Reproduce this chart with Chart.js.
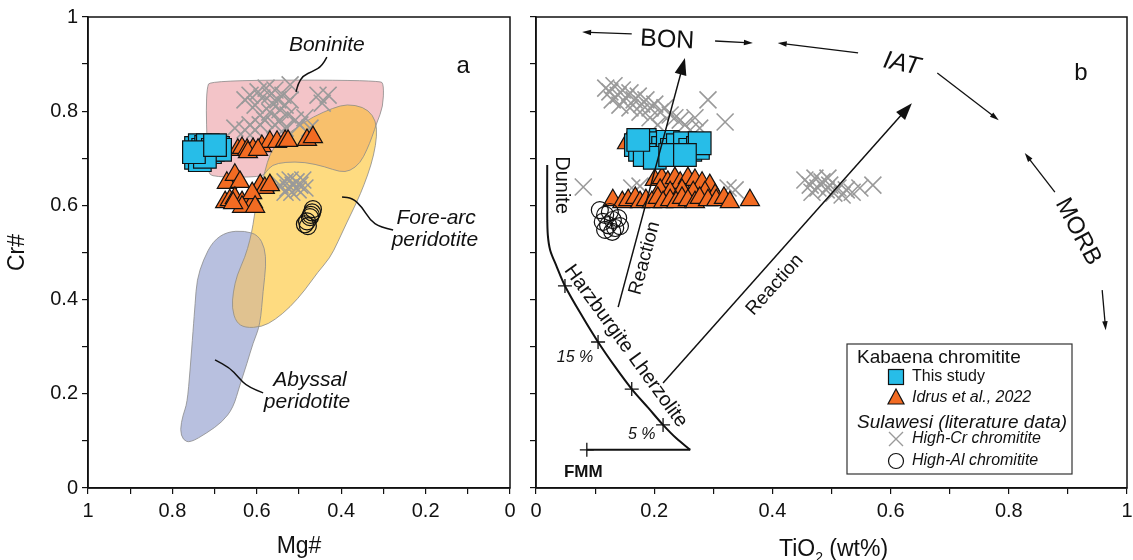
<!DOCTYPE html>
<html>
<head>
<meta charset="utf-8">
<script src="https://cdn.jsdelivr.net/npm/chart.js@4.4.1/dist/chart.umd.min.js"></script>
<style>
  html, body { margin: 0; padding: 0; background: #fff; overflow: hidden; }
  #wrap { position: relative; width: 1133px; height: 560px; }
  .box { position: absolute; top: 0; }
</style>
</head>
<body>
<div id="wrap">
  <div class="box" style="left:0"><canvas id="left" width="520" height="560"></canvas></div>
  <div class="box" style="left:520px"><canvas id="right" width="613" height="560"></canvas></div>
</div>
<script>
// ---------- data : panel a (Mg# vs Cr#) ----------
const tickLabels = ['0', '0.2', '0.4', '0.6', '0.8', '1'];

const squaresA = [[0.744,0.722],[0.735,0.728],[0.727,0.718],[0.720,0.724],[0.711,0.713],[0.716,0.728],[0.704,0.718],
  [0.692,0.722],[0.687,0.718],[0.744,0.701],[0.735,0.696],[0.723,0.703],[0.749,0.713],[0.699,0.728]];

const trianglesA = [[0.645,0.718],[0.635,0.722],[0.623,0.718],[0.609,0.720],[0.588,0.726],[0.569,0.735],[0.552,0.735],
  [0.533,0.737],[0.526,0.737],[0.481,0.739],[0.467,0.745],[0.621,0.713],[0.597,0.718],
  [0.671,0.648],[0.652,0.665],[0.640,0.650],[0.675,0.607],[0.664,0.611],[0.652,0.616],[0.635,0.607],[0.621,0.605],
  [0.609,0.607],[0.592,0.643],[0.581,0.637],[0.569,0.643],[0.611,0.626],[0.635,0.597],[0.604,0.597],[0.656,0.605]];

const crossesA = [[0.628,0.824],[0.616,0.834],[0.604,0.813],[0.597,0.841],[0.588,0.828],[0.578,0.849],[0.569,0.834],
  [0.564,0.817],[0.557,0.845],[0.550,0.824],[0.545,0.803],[0.538,0.834],[0.533,0.813],[0.526,0.792],[0.521,0.824],
  [0.592,0.792],[0.581,0.781],[0.569,0.798],[0.557,0.771],[0.545,0.781],[0.533,0.764],[0.509,0.781],[0.498,0.771],
  [0.486,0.786],[0.474,0.764],[0.616,0.771],[0.604,0.760],[0.455,0.834],[0.431,0.834],[0.445,0.817],[0.521,0.856],
  [0.592,0.771],[0.652,0.764],[0.628,0.760],
  [0.545,0.643],[0.533,0.650],[0.526,0.637],[0.521,0.654],[0.514,0.643],[0.507,0.650],[0.502,0.633],[0.498,0.643],
  [0.491,0.654],[0.486,0.637],[0.533,0.628],[0.517,0.628]];

const circlesA = [[0.486,0.560],[0.481,0.566],[0.474,0.575],[0.469,0.585],[0.467,0.592],[0.472,0.580],[0.479,0.556]];

// field outlines
const boninitePoly = [[0.711,0.866],[0.308,0.866],[0.299,0.856],[0.301,0.809],[0.315,0.777],[0.327,0.745],[0.339,0.718],
  [0.355,0.690],[0.379,0.673],[0.403,0.671],[0.438,0.682],[0.486,0.692],[0.533,0.692],[0.564,0.686],[0.578,0.671],
  [0.588,0.660],[0.704,0.660],[0.716,0.671],[0.718,0.739],[0.720,0.803],[0.718,0.849]];
const foreArcPoly = [[0.386,0.815],[0.348,0.809],[0.325,0.792],[0.315,0.766],[0.318,0.728],[0.329,0.686],[0.346,0.643],
  [0.363,0.607],[0.386,0.565],[0.408,0.522],[0.427,0.488],[0.455,0.459],[0.486,0.420],[0.521,0.384],[0.557,0.357],
  [0.588,0.342],[0.628,0.340],[0.649,0.352],[0.659,0.382],[0.656,0.416],[0.647,0.452],[0.628,0.490],[0.616,0.527],
  [0.609,0.558],[0.602,0.601],[0.592,0.637],[0.581,0.671],[0.569,0.711],[0.545,0.739],[0.505,0.766],[0.467,0.788],
  [0.419,0.807]];
const abyssalPoly = [[0.742,0.442],[0.727,0.484],[0.704,0.524],[0.671,0.544],[0.628,0.546],[0.597,0.537],[0.581,0.510],
  [0.578,0.473],[0.585,0.420],[0.592,0.346],[0.609,0.308],[0.623,0.265],[0.640,0.219],[0.656,0.170],[0.682,0.140],
  [0.718,0.117],[0.758,0.096],[0.775,0.102],[0.782,0.123],[0.775,0.155],[0.765,0.180],[0.758,0.251],[0.751,0.335],
  [0.746,0.393]];

// labels and leader lines, panel a
const boniniteLeader = [[0.434,0.915],[0.445,0.896],[0.467,0.885],[0.491,0.875],[0.502,0.858],[0.507,0.841]];
const foreArcLeader = [[0.277,0.548],[0.308,0.554],[0.332,0.569],[0.351,0.597],[0.374,0.616],[0.398,0.618]];
const abyssalLeader = [[0.585,0.202],[0.621,0.214],[0.645,0.236],[0.664,0.255],[0.699,0.272]];
const textA = [
  { t: 'Boninite', at: [0.434,0.941], size: 21, style: 'italic' },
  { t: 'Fore-arc', at: [0.175,0.573], size: 21, style: 'italic' },
  { t: 'peridotite', at: [0.178,0.527], size: 21, style: 'italic' },
  { t: 'Abyssal', at: [0.474,0.229], size: 21, style: 'italic' },
  { t: 'peridotite', at: [0.481,0.183], size: 21, style: 'italic' },
  { t: 'a', at: [0.111,0.896], size: 24 }
];

// ---------- data : panel b (TiO2 vs Cr#) ----------
const squaresB = [[0.169,0.728],[0.176,0.718],[0.184,0.739],[0.193,0.724],[0.201,0.713],[0.210,0.732],[0.215,0.722],
  [0.223,0.735],[0.230,0.718],[0.240,0.728],[0.252,0.732],[0.261,0.718],[0.274,0.722],[0.277,0.732],[0.184,0.707],
  [0.201,0.701],[0.227,0.707],[0.252,0.707],[0.173,0.739]];

const trianglesB = [[0.201,0.654],[0.213,0.658],[0.223,0.650],[0.235,0.658],[0.244,0.648],[0.257,0.658],[0.269,0.654],
  [0.281,0.648],[0.294,0.643],[0.210,0.633],[0.227,0.628],[0.247,0.633],[0.266,0.628],[0.286,0.628],[0.303,0.622],
  [0.130,0.611],[0.146,0.607],[0.156,0.611],[0.168,0.616],[0.176,0.607],[0.186,0.611],[0.196,0.607],[0.206,0.616],
  [0.215,0.607],[0.227,0.611],[0.237,0.607],[0.247,0.616],[0.257,0.611],[0.269,0.607],[0.277,0.616],[0.291,0.611],
  [0.305,0.611],[0.318,0.616],[0.362,0.611],[0.328,0.607],[0.154,0.732]];

const crossesB = [[0.118,0.849],[0.125,0.841],[0.132,0.854],[0.139,0.834],[0.146,0.845],[0.152,0.828],[0.159,0.839],
  [0.166,0.824],[0.173,0.832],[0.179,0.815],[0.186,0.824],[0.193,0.807],[0.201,0.815],[0.210,0.798],[0.218,0.807],
  [0.227,0.792],[0.235,0.786],[0.244,0.781],[0.252,0.771],[0.129,0.824],[0.142,0.813],[0.176,0.798],[0.193,0.786],
  [0.206,0.771],[0.261,0.760],[0.277,0.764],[0.291,0.824],[0.320,0.777],[0.269,0.786],[0.159,0.807],
  [0.080,0.639],[0.162,0.637],[0.176,0.641],[0.325,0.637],[0.337,0.633],
  [0.455,0.654],[0.464,0.643],[0.472,0.658],[0.477,0.637],[0.484,0.650],[0.491,0.633],[0.497,0.643],[0.504,0.626],
  [0.511,0.637],[0.518,0.622],[0.525,0.633],[0.535,0.628],[0.548,0.637],[0.570,0.643],[0.467,0.628],[0.494,0.658]];

const circlesB = [[0.108,0.590],[0.117,0.580],[0.125,0.586],[0.113,0.565],[0.122,0.558],[0.130,0.569],[0.139,0.573],
  [0.134,0.552],[0.117,0.548],[0.129,0.544],[0.142,0.556]];

// FMM melting trend
const fmmLine = [[0.086,0.081],[0.261,0.081]];
const meltCurve = [[0.261,0.081],[0.237,0.106],[0.215,0.134],[0.190,0.170],[0.162,0.210],[0.134,0.257],[0.105,0.310],
  [0.078,0.365],[0.049,0.429],[0.034,0.473],[0.024,0.505],[0.020,0.537],[0.019,0.580],[0.019,0.686]];
const meltTicks = [[0.086,0.081],[0.215,0.134],[0.162,0.210],[0.105,0.310],[0.049,0.429]];

// arrows and labels, panel b
const arrowsB = [
  { from: [0.162,0.964], to: [0.078,0.968] },
  { from: [0.303,0.949], to: [0.367,0.945] },
  { from: [0.545,0.924], to: [0.409,0.945] },
  { from: [0.679,0.881], to: [0.783,0.781] },
  { from: [0.878,0.628], to: [0.827,0.711] },
  { from: [0.958,0.420], to: [0.964,0.335] },
  { from: [0.139,0.384], to: [0.252,0.913], big: true },
  { from: [0.215,0.223], to: [0.636,0.817], big: true }
];
const textB = [
  { t: 'BON', at: [0.222,0.951], size: 25, rot: 3 },
  { t: 'IAT', at: [0.619,0.900], size: 25, style: 'italic', rot: 12 },
  { t: 'MORB', at: [0.917,0.544], size: 24, rot: 62 },
  { t: 'b', at: [0.922,0.881], size: 24 },
  { t: 'Dunite', at: [0.044,0.643], size: 20, rot: 90 },
  { t: 'Harzburgite Lherzolite', at: [0.152,0.301], size: 20, rot: 54 },
  { t: 'Reaction', at: [0.184,0.488], size: 19, rot: -75 },
  { t: 'Reaction', at: [0.404,0.431], size: 19, rot: -48 },
  { t: '15 %', at: [0.066,0.278], size: 16, style: 'italic' },
  { t: '5 %', at: [0.179,0.113], size: 16, style: 'italic' },
  { t: 'FMM', at: [0.080,0.034], size: 17, weight: 'bold' }
];

// ---------- styles ----------
const FONT = '"Liberation Sans", Arial, sans-serif';
const INK = '#111';
const PINK = '#f3c4c8', YELLOW = '#fedb80', BLUE = '#b8c0df', ORANGE = '#f8c06c', TAN = '#e0c290';
const CYAN = '#27bde8', RED_ORANGE = '#f26b22', GREY = '#9a9a9a';

Chart.defaults.font.family = FONT;
Chart.defaults.color = INK;

const pts = arr => arr.map(([x, y]) => ({ x, y }));
const tickCb = v => { const s = String(Math.round(v * 10) / 10); return tickLabels.includes(s) ? s : ''; };

function markerSets(sq, tri, cr, ci) {
  return [
    { label: 'High-Cr chromitite', data: pts(cr), pointStyle: 'crossRot', pointRadius: 12, borderColor: GREY, borderWidth: 1.6, order: 5 },
    { label: 'Kabaena (Idrus et al., 2022)', data: pts(tri), pointStyle: 'triangle', pointRadius: 11, backgroundColor: RED_ORANGE, borderColor: INK, borderWidth: 1.2, order: 4 },
    { label: 'High-Al chromitite', data: pts(ci), pointStyle: 'circle', pointRadius: 8.5, backgroundColor: 'rgba(0,0,0,0)', borderColor: INK, borderWidth: 1.2, order: 3 },
    { label: 'This study', data: pts(sq), pointStyle: 'rect', pointRadius: 16, backgroundColor: CYAN, borderColor: INK, borderWidth: 1.2, order: 2 }
  ];
}

function axes(reverse, yLabels, yTitle) {
  const tickFont = { size: 20 };
  return {
    x: {
      type: 'linear', min: 0, max: 1, reverse,
      ticks: { stepSize: 0.1, callback: tickCb, font: tickFont, color: INK, padding: 5, maxRotation: 0, autoSkip: false },
      grid: { drawOnChartArea: false, tickLength: 6, color: INK, lineWidth: 1.2 },
      border: { color: INK, width: 1.5 },
      title: { display: reverse, text: 'Mg#', font: { size: 23 }, color: INK, padding: { top: 0, bottom: 0 } },
      afterFit(s) { s.height = 72; s.paddingLeft = 0; s.paddingRight = 0; }
    },
    y: {
      type: 'linear', min: 0, max: 1,
      ticks: { display: yLabels, stepSize: 0.1, callback: tickCb, font: tickFont, color: INK, padding: 4, autoSkip: false },
      grid: { drawOnChartArea: false, tickLength: 6, color: INK, lineWidth: 1.2 },
      border: { color: INK, width: 1.5 },
      title: { display: !!yTitle, text: yTitle, font: { size: 23 }, color: INK },
      afterFit(s) { s.width = yLabels ? 88 : 16; s.paddingTop = 0; s.paddingBottom = 0; }
    }
  };
}

// ---------- drawing helpers ----------
function smoothClosed(p) {
  const path = new Path2D(), n = p.length;
  const mid = (a, b) => [(a[0] + b[0]) / 2, (a[1] + b[1]) / 2];
  const m0 = mid(p[n - 1], p[0]);
  path.moveTo(m0[0], m0[1]);
  for (let i = 0; i < n; i++) {
    const m = mid(p[i], p[(i + 1) % n]);
    path.quadraticCurveTo(p[i][0], p[i][1], m[0], m[1]);
  }
  path.closePath();
  return path;
}

function smoothOpen(ctx, p) {
  ctx.beginPath();
  ctx.moveTo(p[0][0], p[0][1]);
  for (let i = 1; i < p.length - 1; i++) {
    const mx = (p[i][0] + p[i + 1][0]) / 2, my = (p[i][1] + p[i + 1][1]) / 2;
    ctx.quadraticCurveTo(p[i][0], p[i][1], mx, my);
  }
  ctx.lineTo(p[p.length - 1][0], p[p.length - 1][1]);
  ctx.stroke();
}

function drawText(ctx, o, px, py) {
  ctx.save();
  ctx.translate(px, py);
  ctx.rotate((o.rot || 0) * Math.PI / 180);
  ctx.font = `${o.style || ''} ${o.weight || ''} ${o.size}px ${FONT}`;
  ctx.textAlign = o.align || 'center';
  ctx.textBaseline = 'middle';
  ctx.fillStyle = INK;
  ctx.fillText(o.t, 0, 0);
  ctx.restore();
}

function drawArrow(ctx, x1, y1, x2, y2, big) {
  const len = big ? 17 : 9, w = big ? 12 : 5.5;
  const a = Math.atan2(y2 - y1, x2 - x1), c = Math.cos(a), s = Math.sin(a);
  ctx.lineWidth = big ? 1.5 : 1.3;
  ctx.beginPath();
  ctx.moveTo(x1, y1);
  ctx.lineTo(x2 - c * len * 0.8, y2 - s * len * 0.8);
  ctx.stroke();
  ctx.beginPath();
  ctx.moveTo(x2, y2);
  ctx.lineTo(x2 - c * len - s * w / 2, y2 - s * len + c * w / 2);
  ctx.lineTo(x2 - c * len + s * w / 2, y2 - s * len - c * w / 2);
  ctx.closePath();
  ctx.fill();
}

function frame(chart) {
  const { ctx, chartArea: ca } = chart;
  ctx.save();
  ctx.strokeStyle = INK;
  ctx.lineWidth = 1.5;
  ctx.strokeRect(ca.left, ca.top, ca.width, ca.height);
  ctx.restore();
}

// ---------- panel a ----------
const panelA = {
  id: 'panelA',
  beforeDatasetsDraw(chart) {
    const { ctx, chartArea: ca, scales: { x, y } } = chart;
    const toPx = arr => arr.map(([u, v]) => [x.getPixelForValue(u), y.getPixelForValue(v)]);
    const pink = smoothClosed(toPx(boninitePoly));
    const yel = smoothClosed(toPx(foreArcPoly));
    const blue = smoothClosed(toPx(abyssalPoly));
    ctx.save();
    ctx.beginPath(); ctx.rect(ca.left, ca.top, ca.width, ca.height); ctx.clip();
    ctx.fillStyle = PINK; ctx.fill(pink);
    ctx.fillStyle = BLUE; ctx.fill(blue);
    ctx.fillStyle = YELLOW; ctx.fill(yel);
    ctx.save(); ctx.clip(pink); ctx.fillStyle = ORANGE; ctx.fill(yel); ctx.restore();
    ctx.save(); ctx.clip(blue); ctx.fillStyle = TAN; ctx.fill(yel); ctx.restore();
    ctx.strokeStyle = '#8a8a8a'; ctx.lineWidth = 0.8;
    [pink, yel, blue].forEach(p => ctx.stroke(p));
    ctx.restore();
  },
  afterDatasetsDraw(chart) {
    const { ctx, scales: { x, y } } = chart;
    const toPx = arr => arr.map(([u, v]) => [x.getPixelForValue(u), y.getPixelForValue(v)]);
    ctx.save();
    ctx.strokeStyle = INK; ctx.lineWidth = 1.5;
    [boniniteLeader, foreArcLeader, abyssalLeader].forEach(l => smoothOpen(ctx, toPx(l)));
    textA.forEach(o => drawText(ctx, o, x.getPixelForValue(o.at[0]), y.getPixelForValue(o.at[1])));
    ctx.restore();
    frame(chart);
  }
};

new Chart(document.getElementById('left'), {
  type: 'scatter',
  data: { datasets: markerSets(squaresA, trianglesA, crossesA, circlesA) },
  options: {
    responsive: false, animation: false, events: [],
    layout: { autoPadding: false, padding: { top: 17, right: 10, left: 0, bottom: 0 } },
    plugins: { legend: { display: false }, tooltip: { enabled: false } },
    scales: axes(true, true, 'Cr#')
  },
  plugins: [panelA]
});

// ---------- panel b ----------
const legendRows = [
  { kind: 'head', t: 'Kabaena chromitite', style: '' },
  { kind: 'rect', t: 'This study', style: '' },
  { kind: 'tri', t: 'Idrus et al., 2022', style: 'italic' },
  { kind: 'head', t: 'Sulawesi (literature data)', style: 'italic' },
  { kind: 'cross', t: 'High-Cr chromitite', style: 'italic' },
  { kind: 'circle', t: 'High-Al chromitite', style: 'italic' }
];
const legendRowY = [14, 33, 54, 79, 95, 117];

function drawLegend(ctx, ca) {
  const bx = ca.right - 280, by = ca.bottom - 144, bw = 225, bh = 130;
  ctx.save();
  ctx.fillStyle = '#fff';
  ctx.fillRect(bx, by, bw, bh);
  ctx.strokeStyle = '#333'; ctx.lineWidth = 1.2;
  ctx.strokeRect(bx, by, bw, bh);
  legendRows.forEach((r, i) => {
    const yy = by + legendRowY[i];
    const mx = bx + 49;
    ctx.fillStyle = INK;
    ctx.textBaseline = 'middle'; ctx.textAlign = 'left';
    if (r.kind === 'head') {
      ctx.font = `${r.style} 19px ${FONT}`;
      ctx.fillText(r.t, bx + 10, yy);
      return;
    }
    ctx.font = `${r.style} 16px ${FONT}`;
    ctx.fillText(r.t, bx + 65, yy);
    ctx.lineWidth = 1.2; ctx.strokeStyle = INK;
    if (r.kind === 'rect') {
      ctx.fillStyle = CYAN; ctx.fillRect(mx - 7.5, yy - 7.5, 15, 15); ctx.strokeRect(mx - 7.5, yy - 7.5, 15, 15);
    } else if (r.kind === 'tri') {
      ctx.beginPath(); ctx.moveTo(mx, yy - 9); ctx.lineTo(mx + 8, yy + 6); ctx.lineTo(mx - 8, yy + 6); ctx.closePath();
      ctx.fillStyle = RED_ORANGE; ctx.fill(); ctx.stroke();
    } else if (r.kind === 'cross') {
      ctx.strokeStyle = GREY; ctx.lineWidth = 1.4;
      ctx.beginPath(); ctx.moveTo(mx - 7, yy - 7); ctx.lineTo(mx + 7, yy + 7); ctx.moveTo(mx + 7, yy - 7); ctx.lineTo(mx - 7, yy + 7); ctx.stroke();
    } else {
      ctx.beginPath(); ctx.arc(mx, yy, 7.5, 0, Math.PI * 2); ctx.stroke();
    }
  });
  ctx.restore();
}

const panelB = {
  id: 'panelB',
  afterDatasetsDraw(chart) {
    const { ctx, chartArea: ca, scales: { x, y } } = chart;
    ctx.save();
    ctx.strokeStyle = INK; ctx.fillStyle = INK;
    arrowsB.forEach(a => drawArrow(ctx, x.getPixelForValue(a.from[0]), y.getPixelForValue(a.from[1]),
      x.getPixelForValue(a.to[0]), y.getPixelForValue(a.to[1]), a.big));
    textB.forEach(o => drawText(ctx, o, x.getPixelForValue(o.at[0]), y.getPixelForValue(o.at[1])));
    ctx.restore();
    drawLegend(ctx, ca);
    frame(chart);
  },
  afterDraw(chart) {
    // x-axis title with subscript
    const { ctx, chartArea: ca } = chart;
    const parts = [['TiO', 23, 0], ['2', 14, 6], [' (wt%)', 23, 0]];
    ctx.save();
    ctx.fillStyle = INK; ctx.textBaseline = 'alphabetic'; ctx.textAlign = 'left';
    let total = 0;
    parts.forEach(p => { ctx.font = `${p[1]}px ${FONT}`; total += ctx.measureText(p[0]).width; });
    let cx = (ca.left + ca.right) / 2 + 2 - total / 2;
    const base = 556;
    parts.forEach(p => { ctx.font = `${p[1]}px ${FONT}`; ctx.fillText(p[0], cx, base + p[2]); cx += ctx.measureText(p[0]).width; });
    ctx.restore();
  }
};

new Chart(document.getElementById('right'), {
  type: 'scatter',
  data: {
    datasets: [
      ...markerSets(squaresB, trianglesB, crossesB, circlesB),
      { label: 'FMM', data: pts(fmmLine), showLine: true, pointRadius: 0, borderColor: INK, borderWidth: 2, order: 1 },
      { label: 'melting', data: pts(meltCurve), showLine: true, tension: 0.3, pointRadius: 0, borderColor: INK, borderWidth: 2, order: 1 },
      { label: 'melt ticks', data: pts(meltTicks), pointStyle: 'cross', pointRadius: 7, borderColor: INK, borderWidth: 1.3, order: 0 }
    ]
  },
  options: {
    responsive: false, animation: false, events: [],
    layout: { autoPadding: false, padding: { top: 17, right: 6, left: 0, bottom: 0 } },
    plugins: { legend: { display: false }, tooltip: { enabled: false } },
    scales: axes(false, false, '')
  },
  plugins: [panelB]
});
</script>
</body>
</html>
